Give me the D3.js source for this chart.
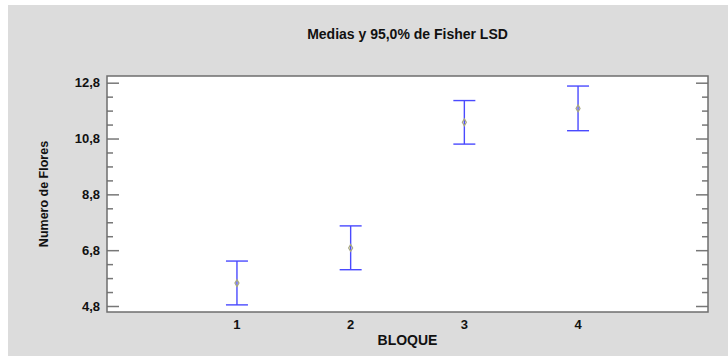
<!DOCTYPE html>
<html>
<head>
<meta charset="utf-8">
<script src="https://cdn.jsdelivr.net/npm/d3@7/dist/d3.min.js"></script>
<style>
  html, body { margin: 0; padding: 0; background: #ffffff; }
  svg { display: block; }
  text { font-family: "Liberation Sans", Arial, sans-serif; font-weight: bold; fill: #111; }
</style>
</head>
<body>
<svg id="chart" width="728" height="356"></svg>
<script>
// Block means with 95% Fisher LSD intervals
const categories = ["1", "2", "3", "4"];
const means = [5.62, 6.88, 11.38, 11.88];
const lower = [4.84, 6.10, 10.60, 11.08];
const upper = [6.41, 7.67, 12.16, 12.68];
const yTicks = [4.8, 6.8, 8.8, 10.8, 12.8];
const yMinorTicks = [5.3, 5.8, 6.3, 7.3, 7.8, 8.3, 9.3, 9.8, 10.3, 11.3, 11.8, 12.3];

const svg = d3.select("#chart");
const W = 728, H = 356;

// grey panel behind everything
svg.append("rect").attr("x", 8).attr("y", 5).attr("width", W - 8).attr("height", H - 5).attr("fill", "#dcdcdc");

const plot = { left: 107, right: 708, top: 76, bottom: 312 };

const x = d3.scalePoint().domain(categories).range([plot.left, plot.right]).padding(1.143);
const y = d3.scaleLinear().domain([4.585, 13.04]).range([plot.bottom, plot.top]);

svg.append("rect")
  .attr("x", plot.left).attr("y", plot.top)
  .attr("width", plot.right - plot.left).attr("height", plot.bottom - plot.top)
  .attr("fill", "#ffffff");

const fmt = d => d3.format(".1f")(d).replace(".", ",");

// left axis: ticks point into the plot
const left = svg.append("g").attr("transform", `translate(${plot.left},0)`);
left.call(d3.axisRight(y).tickValues(yTicks).tickSize(12).tickFormat(""));
left.append("g").call(d3.axisRight(y).tickValues(yMinorTicks).tickSize(6).tickFormat(""));
left.selectAll(".domain").remove();
left.selectAll("line").attr("stroke", "#777").attr("stroke-width", 1.5);
left.selectAll(".tick text").remove();

// tick labels on the left
svg.append("g").selectAll("text").data(yTicks).join("text")
  .attr("x", plot.left - 7).attr("y", d => y(d)).attr("dy", "0.35em")
  .attr("text-anchor", "end").attr("font-size", 13)
  .text(fmt);

// right axis mirrored, ticks pointing left
const right = svg.append("g").attr("transform", `translate(${plot.right},0)`);
right.call(d3.axisLeft(y).tickValues(yTicks).tickSize(12).tickFormat(""));
right.append("g").call(d3.axisLeft(y).tickValues(yMinorTicks).tickSize(6).tickFormat(""));
right.selectAll(".domain").remove();
right.selectAll("line").attr("stroke", "#777").attr("stroke-width", 1.5);

// frame
svg.append("rect")
  .attr("x", plot.left).attr("y", plot.top)
  .attr("width", plot.right - plot.left).attr("height", plot.bottom - plot.top)
  .attr("fill", "none").attr("stroke", "#6e6e6e").attr("stroke-width", 1.5);

// x tick labels
svg.append("g").selectAll("text").data(categories).join("text")
  .attr("x", d => x(d)).attr("y", 329)
  .attr("text-anchor", "middle").attr("font-size", 13)
  .text(d => d);

// error bars
const capHalf = 11;
const bars = svg.append("g").selectAll("g").data(categories).join("g");
bars.append("line")
  .attr("x1", d => x(d)).attr("x2", d => x(d))
  .attr("y1", (d, i) => y(upper[i])).attr("y2", (d, i) => y(lower[i]))
  .attr("stroke", "#4a4aff").attr("stroke-width", 1.4);
bars.append("line")
  .attr("x1", d => x(d) - capHalf).attr("x2", d => x(d) + capHalf)
  .attr("y1", (d, i) => y(upper[i])).attr("y2", (d, i) => y(upper[i]))
  .attr("stroke", "#4a4aff").attr("stroke-width", 1.4);
bars.append("line")
  .attr("x1", d => x(d) - capHalf).attr("x2", d => x(d) + capHalf)
  .attr("y1", (d, i) => y(lower[i])).attr("y2", (d, i) => y(lower[i]))
  .attr("stroke", "#4a4aff").attr("stroke-width", 1.4);

// mean markers
bars.append("path")
  .attr("d", d3.symbol().type(d3.symbolDiamond).size(14))
  .attr("transform", (d, i) => `translate(${x(d)},${y(means[i])})`)
  .attr("fill", "none").attr("stroke", "#a8a880").attr("stroke-width", 1.2);

// titles
svg.append("text").attr("x", (plot.left + plot.right) / 2).attr("y", 39)
  .attr("text-anchor", "middle").attr("font-size", 14)
  .text("Medias y 95,0% de Fisher LSD");

svg.append("text").attr("x", (plot.left + plot.right) / 2).attr("y", 345)
  .attr("text-anchor", "middle").attr("font-size", 14)
  .text("BLOQUE");

svg.append("text")
  .attr("transform", `translate(48,${(plot.top + plot.bottom) / 2}) rotate(-90)`)
  .attr("text-anchor", "middle").attr("font-size", 12.5)
  .text("Numero de Flores");
</script>
</body>
</html>
